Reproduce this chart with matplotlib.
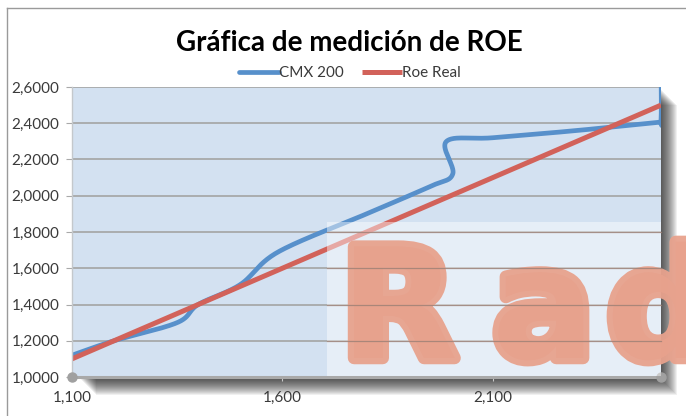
import numpy as np
import matplotlib.pyplot as plt
import matplotlib.patheffects as pe
from matplotlib.patches import Rectangle
from matplotlib.ticker import FixedLocator, FuncFormatter

title = "Gráfica de medición de ROE"
series_names = ["CMX 200", "Roe Real"]
cmx_x = [1100, 1200, 1350, 1400, 1500, 1590, 1800, 1950, 2005, 1990, 2100, 2300, 2490, 2500, 2500]
cmx_y = [1.12, 1.20, 1.30, 1.40, 1.51, 1.69, 1.90, 2.05, 2.12, 2.30, 2.32, 2.36, 2.405, 2.41, 2.75]
roe_x = [1100, 2500]
roe_y = [1.10, 2.50]
x_ticks = [1100, 1600, 2100]
y_ticks = [1.0, 1.2, 1.4, 1.6, 1.8, 2.0, 2.2, 2.4, 2.6]
watermark = ["R", "a", "d"]

blue = "#5790CB"
red = "#D2625A"
plot_bg = "#D3E1F1"
grid_c = "#A4A4A4"
label_c = "#3A3A3A"
wm_c = "#E8A28D"


def smooth(xs, ys, n=40):
    # excel-like catmull-rom smoothing, computed in screen-ish units
    sx, sy = 0.42, 181.25
    p = np.column_stack([np.asarray(xs, float) * sx, np.asarray(ys, float) * sy])
    p = np.vstack([p[0], p, p[-1]])
    t = np.linspace(0, 1, n)[:, None]
    out = []
    for i in range(1, len(p) - 2):
        p0, p1, p2, p3 = p[i - 1], p[i], p[i + 1], p[i + 2]
        seg = 0.5 * (2 * p1 + (p2 - p0) * t + (2 * p0 - 5 * p1 + 4 * p2 - p3) * t ** 2
                     + (-p0 + 3 * p1 - 3 * p2 + p3) * t ** 3)
        out.append(seg if i == 1 else seg[1:])
    out = np.vstack(out)
    return out[:, 0] / sx, out[:, 1] / sy


W, H = 686, 416
fig = plt.figure(figsize=(W / 100, H / 100), dpi=100, facecolor="white")
plt.rcParams["font.family"] = ["Lato", "DejaVu Sans"]

# chart frame lines (top + left)
fig.add_artist(plt.Line2D([7 / W, 1], [1 - 8 / H, 1 - 8 / H], color="#9A9A9A", lw=1.0))
fig.add_artist(plt.Line2D([7 / W, 7 / W], [0, 1 - 8 / H], color="#9A9A9A", lw=1.0))

left, right, top, bottom = 72, 661, 87, 377
pos = [left / W, 1 - bottom / H, (right - left) / W, (bottom - top) / H]

# soft drop shadow (bottom/right)
for d in range(1, 19):
    fig.add_artist(Rectangle((pos[0] + (d + 6) / W, pos[1] - d / H), pos[2] - 8 / W, pos[3],
                             transform=fig.transFigure, facecolor="black", edgecolor="none",
                             alpha=0.06, zorder=-1))

ax = fig.add_axes(pos)
ax.set_facecolor(plot_bg)
ax.set_xlim(1100, 2500)
ax.set_ylim(1.0, 2.6)

ax.yaxis.set_major_locator(FixedLocator(y_ticks))
ax.xaxis.set_major_locator(FixedLocator(x_ticks))
ax.yaxis.set_major_formatter(FuncFormatter(lambda v, _: f"{v:.4f}".replace(".", ",")))
ax.xaxis.set_major_formatter(FuncFormatter(lambda v, _: f"{int(v):,}"))
ax.grid(axis="y", color=grid_c, lw=1.2, zorder=1)
ax.set_axisbelow(True)

sx, sy = smooth(cmx_x, cmx_y)
ax.plot(sx, sy, color=blue, lw=3.4, solid_capstyle="round", label=series_names[0], zorder=2)
ax.plot(roe_x, roe_y, color=red, lw=3.6, solid_capstyle="butt", label=series_names[1], zorder=2.1)

for s in ["top", "right"]:
    ax.spines[s].set_visible(False)
ax.spines["left"].set_color("#C4C8CC")
ax.spines["left"].set_linewidth(1.0)
ax.spines["bottom"].set_color("#A9A9A9")
ax.spines["bottom"].set_linewidth(2.2)
ax.plot([1100, 2500], [1.0, 1.0], "o", color="#A0A0A0", ms=6.5, clip_on=False, zorder=5)

ax.tick_params(axis="y", length=4, color="#A9A9A9", labelsize=11, labelcolor=label_c, pad=5)
ax.tick_params(axis="x", length=3, color="#C9C9C9", labelsize=11, labelcolor=label_c, pad=7)

# watermark block over the lower right
wm_x0, wm_y0 = 327 / W, 1 - 376 / H
wm_clip = Rectangle((wm_x0, wm_y0), 1 - wm_x0, (376 - 222) / H, transform=fig.transFigure,
                    facecolor="none", edgecolor="none")
fig.add_artist(Rectangle((wm_x0, wm_y0), (right - 327) / W, (376 - 222) / H,
                         transform=fig.transFigure, facecolor="white", edgecolor="none",
                         alpha=0.45, zorder=3))
for ch, xp in zip(watermark, [340, 492, 606]):
    t = fig.text(xp / W, 1 - 358 / H, ch, fontsize=110, fontweight="bold",
                 family="DejaVu Sans", color=wm_c, alpha=0.95, ha="left", va="baseline",
                 zorder=3.5,
                 path_effects=[pe.withStroke(linewidth=9, foreground=wm_c)])
    t.set_clip_path(wm_clip)
# grid lines remain visible through the watermark
for v in y_ticks[1:5]:
    yf = pos[1] + (v - 1.0) / 1.6 * pos[3]
    fig.add_artist(plt.Line2D([wm_x0, right / W], [yf, yf], color="#9B7F75", lw=0.9,
                              alpha=0.8, zorder=4))

fig.text(0.51, 1 - 43 / H, title, ha="center", va="center", fontsize=20, fontweight="bold",
         color="black")

fig.legend(loc="center", bbox_to_anchor=(0.51, 1 - 73 / H), ncol=2, frameon=False,
           fontsize=11, handlelength=2.6, handletextpad=0.0, columnspacing=1.2,
           labelcolor=label_c)

fig.savefig("out.png", dpi=100, facecolor="white")
